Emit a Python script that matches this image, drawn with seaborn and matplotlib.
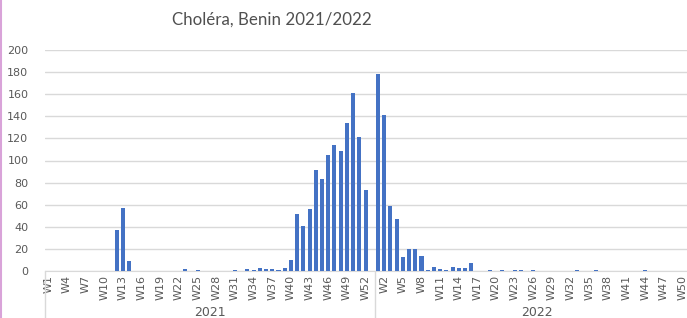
import pandas as pd
import matplotlib.pyplot as plt
import seaborn as sns
from matplotlib.lines import Line2D

# weekly cholera cases
weeks_2021 = ['W%d' % i for i in range(1, 54)]
cases_2021 = [0, 0, 0, 0, 0, 0, 0, 0, 0, 0,
              0, 37, 57, 9, 0, 0, 0, 0, 0, 0,
              0, 0, 2, 0, 1, 0, 0, 0, 0, 0,
              1, 0, 2, 1, 3, 2, 2, 1, 3, 10,
              52, 41, 56, 91, 83, 105, 114, 109, 134, 161,
              121, 73, 0]
weeks_2022 = ['W%d' % i for i in range(1, 51)]
cases_2022 = [178, 141, 59, 47, 13, 20, 20, 14, 1, 4,
              2, 1, 4, 3, 3, 7, 0, 0, 1, 0,
              1, 0, 1, 1, 0, 1, 0, 0, 0, 0,
              0, 0, 1, 0, 0, 1, 0, 0, 0, 0,
              0, 0, 0, 1, 0, 0, 0, 0, 0, 0]

df = pd.DataFrame({
    'year': ['2021'] * len(weeks_2021) + ['2022'] * len(weeks_2022),
    'week': weeks_2021 + weeks_2022,
    'cases': cases_2021 + cases_2022,
})
df['key'] = df['year'] + '-' + df['week']

sns.set_style("white")
plt.rcParams['font.family'] = ['Liberation Sans Narrow', 'DejaVu Sans']

fig = plt.figure(figsize=(6.87, 3.18), dpi=100)
ax = fig.add_axes([45 / 687, 1 - 271 / 318, 642 / 687, 221 / 318])

sns.barplot(x='key', y='cases', data=df, color='#4472C4', width=0.65,
            saturation=1, linewidth=0, ax=ax, zorder=3)

ax.set_ylim(0, 200)
ax.set_yticks(range(0, 201, 20))
ax.set_xlim(-0.55, 102.7)
ax.grid(axis='y', color='#d9d9d9', linewidth=1, zorder=0)
for s in ['top', 'right', 'left']:
    ax.spines[s].set_visible(False)
ax.spines['bottom'].set_color('#d9d9d9')

idx = list(range(0, len(df), 3))
ax.set_xticks(idx)
ax.set_xticklabels(df['week'].iloc[idx], rotation=90)
ax.tick_params(axis='x', length=0, pad=3, labelsize=8, colors='#595959')
ax.tick_params(axis='y', length=0, pad=12, labelsize=8, colors='#595959')
ax.set_xlabel('')
ax.set_ylabel('')

# year group separators and labels
bt = ax.get_xaxis_transform()
for xs in [-0.55, 52.5]:
    ax.add_line(Line2D([xs, xs], [0, -0.22], transform=bt, color='#d9d9d9',
                       lw=1, clip_on=False))
ax.text(26, -0.19, '2021', transform=bt, ha='center', va='center',
        fontsize=9, color='#595959')
ax.text(78.5, -0.19, '2022', transform=bt, ha='center', va='center',
        fontsize=9, color='#595959')

fig.text(272 / 687, 1 - 20 / 318, 'Choléra, Benin 2021/2022', ha='center',
         va='center', fontsize=12.2, color='#505050', family=['Lato', 'DejaVu Sans'])

# frame edge on the left
fig.add_artist(Line2D([1 / 687, 1 / 687], [0, 1], transform=fig.transFigure,
                      color='#d9a3d9', lw=1.5))

fig.savefig('out.png', dpi=100)
